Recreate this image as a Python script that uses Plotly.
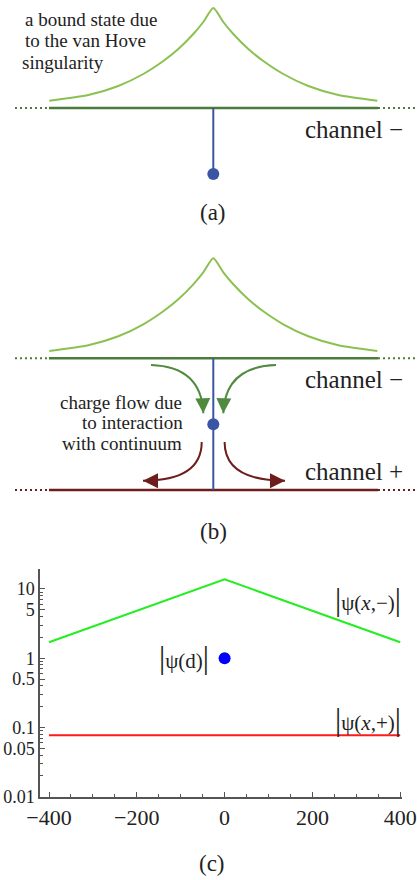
import plotly.graph_objects as go

# ================= panel (c) data =================
x_minus = [-400, 0, 400]
psi_minus = [1.70, 13.8, 1.70]
x_plus = [-400, 400]
psi_plus = [0.0774, 0.0774]
x_d = [0]
psi_d = [1.0]

x_tickvals = [-400, -200, 0, 200, 400]
x_ticktext = ["−400", "−200", "0", "200", "400"]
x_minor = [-350, -300, -250, -150, -100, -50, 50, 100, 150, 250, 300, 350]
y_tickvals = [0.01, 0.05, 0.1, 0.5, 1, 5, 10]
y_ticktext = ["0.01", "0.05", "0.1", "0.5", "1", "5", "10"]
y_minor = [0.02, 0.03, 0.04, 0.06, 0.07, 0.08, 0.09,
           0.2, 0.3, 0.4, 0.6, 0.7, 0.8, 0.9,
           2, 3, 4, 6, 7, 8, 9]

# ================= diagram data (panels a, b; diagram units, y downward) =================
center_x = 213.3
solid_x = [49, 378]
dot_left_x = [15, 49]
dot_right_x = [378, 417]
cusp_offsets = [164, 125, 95, 70, 50, 35, 20, 10, 0]
cusp_heights = [7.3, 13, 22, 34, 47, 59, 74, 86, 100]

a_channel_y = 108
a_bound_y = 174
b_channel_minus_y = 358.3
b_channel_plus_y = 490
b_bound_y = 424.3

# arrows: (start, control, end)
green_arrows = [((151, 365), (201.7, 366.7), (203.3, 413.3)),
                ((276, 365), (225, 366.7), (223.3, 413.3))]
red_arrows = [((201.7, 442), (201.7, 480.7), (143, 480.7)),
              ((224.6, 442), (224.6, 480.7), (285, 480.7))]

# text lines (centre positions in diagram units)
note_a_lines = ["a bound state due", "to the van Hove", "singularity"]
note_a_x = [91, 85, 63]
note_a_y = [19, 40.5, 62]
note_b_lines = ["charge flow due", "to interaction", "with continuum"]
note_b_x = [121, 132, 122]
note_b_y = [402, 422.5, 443]

LIGHT_GREEN = "#8cc152"
DARK_GREEN = "#4a7d3b"
ARROW_GREEN = "#4f8a3e"
DARK_RED = "#6e1d1d"
BLUE = "#3b55a5"
TEXT = "#222222"
FONT = "Liberation Serif"

fig = go.Figure()


def hline(y, color, x_solid, width=2.5):
    fig.add_trace(go.Scatter(x=x_solid, y=[y, y], mode="lines",
                             line=dict(color=color, width=width),
                             xaxis="x", yaxis="y", hoverinfo="skip"))
    for xs in (dot_left_x, dot_right_x):
        fig.add_trace(go.Scatter(x=xs, y=[y, y], mode="lines",
                                 line=dict(color=color, width=2, dash="2px,3px"),
                                 xaxis="x", yaxis="y", hoverinfo="skip"))


def cusp(base_y):
    xs = [center_x - d for d in cusp_offsets] + [center_x + d for d in reversed(cusp_offsets[:-1])]
    hs = cusp_heights + list(reversed(cusp_heights[:-1]))
    ys = [base_y - h for h in hs]
    fig.add_trace(go.Scatter(x=xs, y=ys, mode="lines",
                             line=dict(color=LIGHT_GREEN, width=2, shape="spline", smoothing=0.6),
                             xaxis="x", yaxis="y", hoverinfo="skip"))


# ---- panel (a)
cusp(a_channel_y)
hline(a_channel_y, DARK_GREEN, solid_x)
fig.add_trace(go.Scatter(x=[center_x, center_x], y=[a_channel_y, a_bound_y], mode="lines",
                         line=dict(color=BLUE, width=2), xaxis="x", yaxis="y", hoverinfo="skip"))
fig.add_trace(go.Scatter(x=[center_x], y=[a_bound_y], mode="markers",
                         marker=dict(color=BLUE, size=12), xaxis="x", yaxis="y", hoverinfo="skip"))

# ---- panel (b)
cusp(b_channel_minus_y)
hline(b_channel_minus_y, DARK_GREEN, solid_x)
hline(b_channel_plus_y, DARK_RED, solid_x)
fig.add_trace(go.Scatter(x=[center_x, center_x], y=[b_channel_minus_y, b_channel_plus_y], mode="lines",
                         line=dict(color=BLUE, width=2), xaxis="x", yaxis="y", hoverinfo="skip"))
fig.add_trace(go.Scatter(x=[center_x], y=[b_bound_y], mode="markers",
                         marker=dict(color=BLUE, size=12), xaxis="x", yaxis="y", hoverinfo="skip"))

annotations = []
shapes = []
for arrows, color in ((green_arrows, ARROW_GREEN), (red_arrows, DARK_RED)):
    for (s, c, e) in arrows:
        shapes.append(dict(type="path", xref="x", yref="y",
                           path=f"M {s[0]},{s[1]} Q {c[0]},{c[1]} {e[0]},{e[1]}",
                           line=dict(color=color, width=2), fillcolor="rgba(0,0,0,0)"))
        dx, dy = e[0] - c[0], e[1] - c[1]
        n = (dx * dx + dy * dy) ** 0.5
        annotations.append(dict(x=e[0], y=e[1], ax=e[0] - dx / n * 6, ay=e[1] - dy / n * 6,
                                xref="x", yref="y", axref="x", ayref="y", text="",
                                showarrow=True, arrowhead=2, arrowsize=1.5, arrowwidth=2,
                                arrowcolor=color, standoff=0, startstandoff=0))

# ---- panel (c)
fig.add_trace(go.Scatter(x=x_minus, y=psi_minus, mode="lines", line=dict(color="#22ee22", width=2),
                         xaxis="x2", yaxis="y2", hoverinfo="skip"))
fig.add_trace(go.Scatter(x=x_plus, y=psi_plus, mode="lines", line=dict(color="#ff1a1a", width=2),
                         xaxis="x2", yaxis="y2", hoverinfo="skip"))
fig.add_trace(go.Scatter(x=x_d, y=psi_d, mode="markers", marker=dict(color="#0000ff", size=12),
                         xaxis="x2", yaxis="y2", hoverinfo="skip", cliponaxis=False))


def txt(x, y, s, size, xref="x", yref="y"):
    annotations.append(dict(x=x, y=y, text=s, xref=xref, yref=yref, showarrow=False,
                            xanchor="center", yanchor="middle",
                            font=dict(family=FONT, size=size, color=TEXT)))


# panel (a) texts
for xx, yy, line in zip(note_a_x, note_a_y, note_a_lines):
    txt(xx, yy, line, 19)
txt(354, 129, "channel −", 25)
txt(213, 212, "(a)", 23)

# panel (b) texts
txt(354, 379, "channel −", 25)
txt(353.5, 471, "channel +", 25)
for xx, yy, line in zip(note_b_x, note_b_y, note_b_lines):
    txt(xx, yy, line, 19)
txt(213, 531, "(b)", 23)

# panel (c) labels
BAR = "<span style='font-size:31px'>|</span>"
txt(367.5, 599, BAR + "ψ(<i>x</i>,−)" + BAR, 21, xref="paper_px", yref="paper_px")
txt(367.5, 719, BAR + "ψ(<i>x</i>,+)" + BAR, 21, xref="paper_px", yref="paper_px")
txt(184, 657, BAR + "ψ(d)" + BAR, 21, xref="paper_px", yref="paper_px")
txt(212, 863, "(c)", 23, xref="paper_px", yref="paper_px")

# convert pixel-positioned annotations to paper coords
W, H = 417, 880
for a in annotations:
    if a.get("xref") == "paper_px":
        a["xref"] = "paper"
        a["yref"] = "paper"
        a["x"] = a["x"] / W
        a["y"] = 1 - a["y"] / H

AX = "#555555"
fig.update_layout(
    template="none",
    width=W, height=H, margin=dict(l=0, r=0, t=0, b=0, pad=0, autoexpand=False),
    paper_bgcolor="white", plot_bgcolor="white", showlegend=False,
    font=dict(family=FONT, color=TEXT),
    xaxis=dict(domain=[0, 1], range=[0, 417], visible=False, fixedrange=True, automargin=False),
    yaxis=dict(domain=[320 / 880, 1], range=[560, 0], visible=False, fixedrange=True, automargin=False),
    xaxis2=dict(domain=[40 / W, 402.4 / W], range=[-420.5, 405], anchor="y2", automargin=False,
                showline=True, linecolor=AX, linewidth=1.5, showgrid=False, zeroline=False,
                ticks="inside", ticklen=5, tickwidth=1, tickcolor=AX,
                tickmode="array", tickvals=x_tickvals, ticktext=x_ticktext,
                tickfont=dict(family=FONT, size=22, color=TEXT),
                minor=dict(tickmode="array", tickvals=x_minor, ticks="inside", ticklen=3,
                           tickcolor=AX, showgrid=False)),
    yaxis2=dict(domain=[(H - 796.7) / H, (H - 569.3) / H], type="log", range=[-2, 1.284], anchor="x2",
                automargin=False,
                showline=True, linecolor=AX, linewidth=1.5, showgrid=False, zeroline=False,
                ticks="inside", ticklen=5, tickwidth=1, tickcolor=AX,
                tickmode="array", tickvals=y_tickvals, ticktext=y_ticktext,
                tickfont=dict(family=FONT, size=18, color=TEXT),
                minor=dict(tickmode="array", tickvals=y_minor, ticks="inside", ticklen=3,
                           tickcolor=AX, showgrid=False)),
    annotations=annotations,
    shapes=shapes,
)

fig.write_html("out.html", config={"displayModeBar": False},
               post_script="document.body.style.margin='0';")
